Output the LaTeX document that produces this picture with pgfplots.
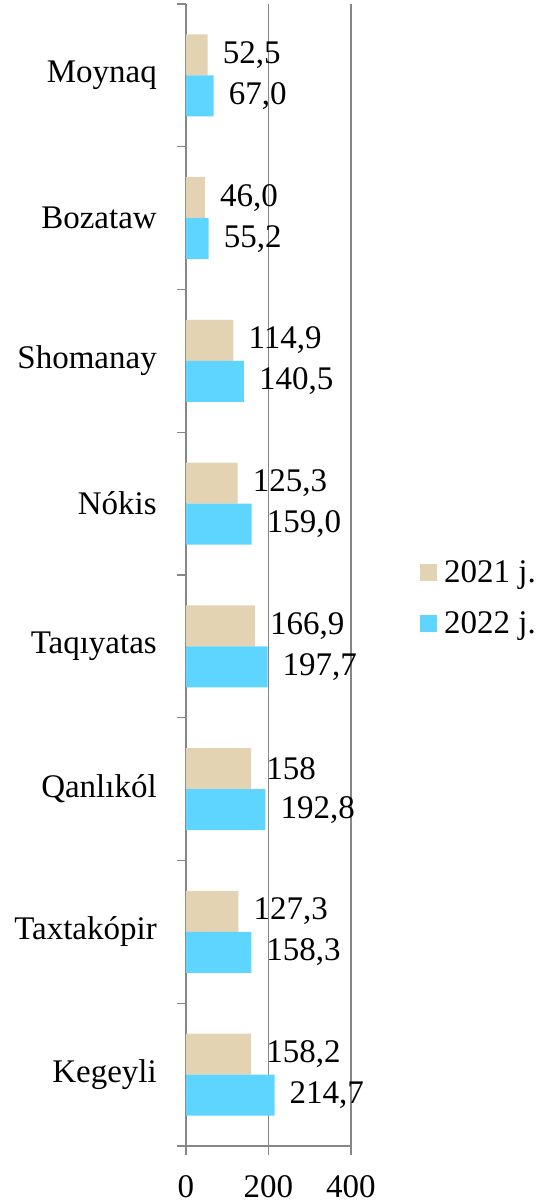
\documentclass[border=0pt]{standalone}
\usepackage{fontspec}
\setmainfont{Liberation Serif}
\usepackage{pgfplots}
\pgfplotsset{compat=1.18}
\usepackage{pgfplotstable}
\definecolor{tanA}{RGB}{227,211,178}
\definecolor{cyanB}{RGB}{93,213,255}
\definecolor{axgray}{RGB}{134,134,134}
\newcommand\bigf{\fontsize{33}{40}\selectfont}

\pgfplotstableread{
x y lab
158.2 0 158,2
127.3 1 127,3
158 2 158
166.9 3 166,9
125.3 4 125,3
114.9 5 114,9
46.0 6 46,0
52.5 7 52,5
}\dataA
\pgfplotstableread{
x y lab
214.7 0 214,7
158.3 1 158,3
192.8 2 192,8
197.7 3 197,7
159.0 4 159,0
140.5 5 140,5
55.2 6 55,2
67.0 7 67,0
}\dataB

\begin{document}
\begin{tikzpicture}
\begin{axis}[
  scale only axis, width=165pt, height=1142pt,
  xbar, bar width=41pt,
  xmin=0, xmax=400, ymin=-0.5, ymax=7.5,
  axis x line*=bottom, axis y line*=left,
  axis line style={axgray, line width=1.2pt},
  every tick/.style={axgray, line width=1.2pt},
  tick align=outside, major tick length=9pt,
  xtick={0,200,400},
  ytick={-0.5,0.5,...,7.5},
  y tick label as interval,
  yticklabels={Kegeyli,Taxtakópir,Qanlıkól,Taqıyatas,Nókis,Shomanay,Bozataw,Moynaq},
  xmajorgrids, ymajorgrids=false,
  major grid style={axgray, line width=1.2pt},
  /pgf/number format/assume math mode=true,
  ticklabel style={font=\bigf, text=black},
  yticklabel style={anchor=east, inner sep=0pt, xshift=-20pt},
  xticklabel style={anchor=north, inner sep=0pt, yshift=-20pt},
  point meta=explicit symbolic,
  nodes near coords={\pgfplotspointmeta},
  nodes near coords style={font=\bigf, text=black, anchor=west, inner sep=0pt, xshift=15pt},
  legend style={at={(axis description cs:1.418,0.48)}, anchor=west, draw=none, fill=none,
     font=\bigf, row sep=22pt, inner sep=0pt, nodes={inner sep=3pt}, cells={anchor=west},
     /tikz/column 1/.style={column sep=4pt}},
  legend image code/.code={\fill[#1] (0pt,-8.5pt) rectangle (17pt,8.5pt);},
  clip=false,
]
\addplot[fill=tanA, draw=none, bar shift=20.5pt] table[x=x, y=y, meta=lab] {\dataA};
\addplot[fill=cyanB, draw=none, bar shift=-20.5pt] table[x=x, y=y, meta=lab] {\dataB};
\legend{2021 j., 2022 j.}
\path (axis description cs:-1.127,1.0035) rectangle (axis description cs:2.139,-0.049);
\end{axis}
\end{tikzpicture}
\end{document}
